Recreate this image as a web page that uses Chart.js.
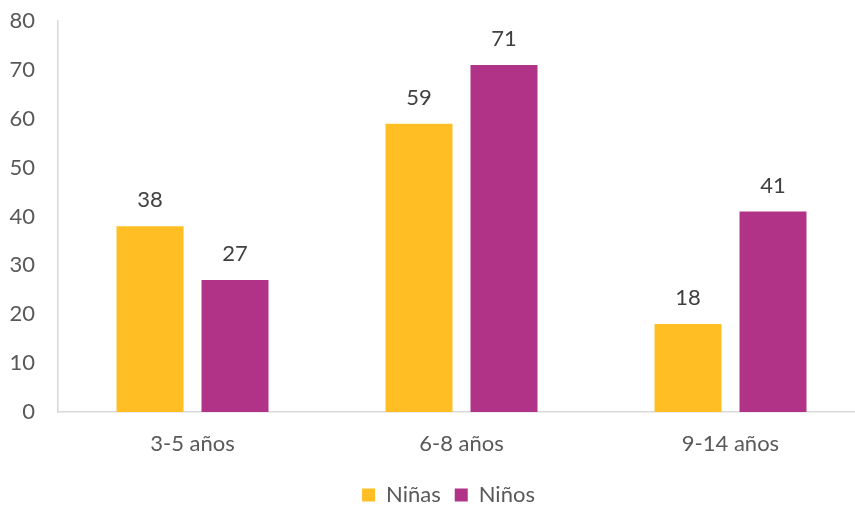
<!DOCTYPE html>
<html lang="es">
<head>
<meta charset="utf-8">
<script src="https://cdn.jsdelivr.net/npm/chart.js@4"></script>
<style>
  html, body { margin: 0; padding: 0; background: #fff; overflow: hidden; }
  #wrap { width: 866px; height: 507px; }
</style>
</head>
<body>
<div id="wrap"><canvas id="grafico"></canvas></div>
<script>
// ===== Datos =====
const categorias = ['3-5 años', '6-8 años', '9-14 años'];
const ninas = [38, 59, 18];
const ninos = [27, 71, 41];
const ticksY = [0, 10, 20, 30, 40, 50, 60, 70, 80];

const corNinas = '#FFBE24';
const corNinos = '#B03388';
const corTexto = '#595959';
const corLinha = '#D9D9D9';
const fonte = 'Lato';

// ===== Plugins =====
// valores encima de cada barra
const rotulos = {
  id: 'rotulos',
  afterDatasetsDraw(chart) {
    const ctx = chart.ctx;
    ctx.save();
    ctx.font = `22px ${fonte}`;
    ctx.fillStyle = '#404040';
    ctx.textAlign = 'center';
    ctx.textBaseline = 'middle';
    chart.data.datasets.forEach((ds, i) => {
      chart.getDatasetMeta(i).data.forEach((bar, j) => {
        ctx.fillText(ds.data[j], bar.x, bar.y - 26);
      });
    });
    ctx.restore();
  }
};

// la leyenda del original está algo a la derecha y abajo
const posLegenda = {
  id: 'posLegenda',
  afterLayout(chart) {
    const lg = chart.legend;
    lg.left += 16; lg.right += 16;
    lg.top += 9; lg.bottom += 9;
  }
};

// ===== Gráfico =====
new Chart(document.getElementById('grafico'), {
  type: 'bar',
  data: {
    labels: categorias,
    datasets: [
      { label: 'Niñas', data: ninas, backgroundColor: corNinas },
      { label: 'Niños', data: ninos, backgroundColor: corNinos }
    ]
  },
  options: {
    responsive: true,
    maintainAspectRatio: false,
    animation: false,
    categoryPercentage: 0.632,
    barPercentage: 0.788,
    layout: { padding: { top: 21, right: 1, left: 0, bottom: 0 } },
    plugins: {
      tooltip: { enabled: false },
      legend: {
        position: 'bottom',
        labels: {
          color: corTexto,
          font: { family: fonte, size: 22 },
          boxWidth: 13,
          boxHeight: 13,
          padding: 14
        }
      }
    },
    scales: {
      x: {
        grid: { display: false, drawTicks: false },
        border: { display: true, color: corLinha, width: 1.5 },
        ticks: { color: corTexto, font: { family: fonte, size: 22 }, padding: 19 },
        afterFit: (scale) => { scale.height = 49; }
      },
      y: {
        min: 0,
        max: 80,
        afterBuildTicks: (scale) => { scale.ticks = ticksY.map(v => ({ value: v })); },
        grid: { display: false, drawTicks: false },
        border: { display: true, color: corLinha, width: 1.5 },
        ticks: { color: corTexto, font: { family: fonte, size: 22 }, padding: 23 },
        afterFit: (scale) => {
          scale.width = 58;
          scale.paddingTop = 0;
          scale.paddingBottom = 0;
        }
      }
    }
  },
  plugins: [rotulos, posLegenda]
});
</script>
</body>
</html>
